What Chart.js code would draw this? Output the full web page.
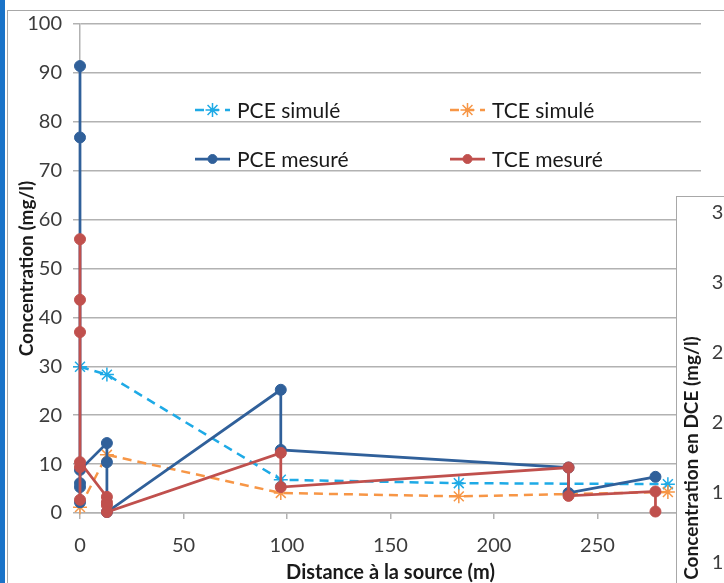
<!DOCTYPE html>
<html>
<head>
<meta charset="utf-8">
<script src="https://cdn.jsdelivr.net/npm/chart.js@4/dist/chart.umd.min.js"></script>
<style>
  html, body { margin: 0; padding: 0; background: #fff; overflow: hidden; }
  body { width: 724px; height: 583px; position: relative; }
  #bar { position: absolute; left: 0; top: 0; width: 5px; height: 583px; background: #1a73c8; }
  #frame { position: absolute; left: 7px; top: 10px; width: 800px; height: 700px;
           border-left: 1.5px solid #a8a8a8; border-top: 1.5px solid #a8a8a8; }
  #main { position: absolute; left: 0; top: 0; z-index: 1; }
  #dceBox { position: absolute; left: 676px; top: 196px; width: 300px; height: 400px;
            background: #fff; border-left: 1px solid #a8a8a8; border-top: 1px solid #a8a8a8;
            overflow: hidden; z-index: 2; }
  #dce { position: absolute; left: 0; top: 0; }
</style>
</head>
<body>
<div id="bar"></div>
<div id="frame"></div>
<canvas id="main" width="724" height="583"></canvas>
<div id="dceBox"><canvas id="dce" width="300" height="540"></canvas></div>
<script>
// ── Données ────────────────────────────────────────────────────────
const pceSimX = [0, 13, 97, 183, 284];
const pceSimY = [29.9, 28.3, 6.8, 6.1, 5.9];

const tceSimX = [0, 13, 97, 183, 284];
const tceSimY = [1.2, 11.9, 4.1, 3.4, 4.3];

const pceMesX = [0, 0, 0, 0, 0, 0, 13, 13, 13, 97, 97, 236, 236, 278];
const pceMesY = [91.4, 76.8, 2.2, 5.3, 6.1, 8.8, 14.3, 10.4, 0.2, 25.2, 12.9, 9.3, 4.1, 7.4];

const tceMesX = [0, 0, 0, 0, 0, 0, 13, 13, 13, 13, 97, 97, 236, 236, 278, 278];
const tceMesY = [56.0, 43.6, 37.0, 2.7, 9.4, 10.4, 3.3, 2.2, 1.6, 0.2, 12.3, 5.3, 9.3, 3.5, 4.4, 0.3];

const seriesLabels = ["PCE simulé", "TCE simulé", "PCE mesuré", "TCE mesuré"];
const xTitle = "Distance à la source (m)";
const yTitle = "Concentration (mg/l)";
const dceTitle = "Concentration en DCE (mg/l)";

const FONT = "Lato, 'Open Sans', sans-serif";
const GRID = "#b2b2b2";
const TICK_COLOR = "#3c3c3c";

function pts(xs, ys) {
  return xs.map((x, i) => ({ x, y: ys[i] }));
}

// ── Légende façon Excel (trait + marqueur) ─────────────────────────
const excelLegend = {
  id: "excelLegend",
  afterDraw(chart) {
    const { ctx, chartArea } = chart;
    const slots = [[115, 86], [370, 86], [115, 135], [370, 135]];
    ctx.save();
    chart.data.datasets.forEach((ds, i) => {
      const x = chartArea.left + slots[i][0];
      const y = chartArea.top + slots[i][1];
      ctx.strokeStyle = ds.borderColor;
      ctx.fillStyle = ds.backgroundColor;
      ctx.lineWidth = ds.borderWidth;
      ctx.setLineDash(ds.borderDash || []);
      ctx.beginPath();
      ctx.moveTo(x, y);
      ctx.lineTo(x + 35, y);
      ctx.stroke();
      ctx.setLineDash([]);
      ctx.lineWidth = ds.pointBorderWidth;
      Chart.helpers.drawPoint(ctx, {
        pointStyle: ds.pointStyle, radius: ds.pointStyle === "circle" ? 4.5 : 7,
        borderWidth: ds.pointBorderWidth, rotation: 0,
      }, x + 17.5, y);
      ctx.fillStyle = "#1a1a1a";
      ctx.font = `21px ${FONT}`;
      ctx.textBaseline = "middle";
      ctx.textAlign = "left";
      ctx.fillText(ds.label, x + 42, y + 1);
    });
    ctx.restore();
  },
};

// ── Graphique principal ────────────────────────────────────────────
new Chart(document.getElementById("main"), {
  type: "scatter",
  data: {
    datasets: [
      {
        label: seriesLabels[0], data: pts(pceSimX, pceSimY), showLine: true, clip: false,
        borderColor: "#1eaae6", backgroundColor: "#1eaae6",
        borderWidth: 2.5, borderDash: [9, 6],
        pointStyle: "star", pointRadius: 7, pointBorderWidth: 1.5, order: 4,
      },
      {
        label: seriesLabels[1], data: pts(tceSimX, tceSimY), showLine: true, clip: false,
        borderColor: "#f79646", backgroundColor: "#f79646",
        borderWidth: 2.5, borderDash: [9, 6],
        pointStyle: "star", pointRadius: 7, pointBorderWidth: 1.5, order: 3,
      },
      {
        label: seriesLabels[2], data: pts(pceMesX, pceMesY), showLine: true, clip: false,
        borderColor: "#30609a", backgroundColor: "#30609a",
        borderWidth: 2.75,
        pointStyle: "circle", pointRadius: 5.5, pointBorderWidth: 1, order: 2,
      },
      {
        label: seriesLabels[3], data: pts(tceMesX, tceMesY), showLine: true, clip: false,
        borderColor: "#c0504d", backgroundColor: "#c0504d",
        borderWidth: 2.75,
        pointStyle: "circle", pointRadius: 5.5, pointBorderWidth: 1, order: 1,
      },
    ],
  },
  options: {
    responsive: false,
    devicePixelRatio: 1,
    animation: false,
    layout: { padding: { left: 0, top: 24, right: 23, bottom: 0 } },
    plugins: { legend: { display: false }, tooltip: { enabled: false } },
    scales: {
      x: {
        type: "linear", min: 0, max: 300,
        afterFit: (s) => { s.height = 70; s.paddingLeft = 0; s.paddingRight = 0; },
        ticks: { stepSize: 50, color: TICK_COLOR, font: { family: FONT, size: 20 }, padding: 15 },
        grid: { drawOnChartArea: false, drawTicks: true, tickLength: 6, color: GRID, lineWidth: 1.5 },
        border: { color: GRID, width: 1.5 },
        title: {
          display: true, text: xTitle, color: "#1a1a1a",
          font: { family: FONT, size: 20, weight: "bold", lineHeight: 1 },
          padding: { top: 0, bottom: 0 },
        },
      },
      y: {
        type: "linear", min: 0, max: 100,
        afterFit: (s) => { s.width = 80; s.paddingTop = 0; s.paddingBottom = 0; },
        ticks: { stepSize: 10, color: TICK_COLOR, font: { family: FONT, size: 20 }, padding: 11 },
        grid: { color: GRID, lineWidth: 1.5, tickLength: 7 },
        border: { color: GRID, width: 1.5 },
        title: {
          display: true, text: yTitle, color: "#1a1a1a",
          font: { family: FONT, size: 19, weight: "bold", lineHeight: 1.2 },
          padding: { top: 15, bottom: 0 },
        },
      },
    },
  },
  plugins: [excelLegend],
});

// ── Second graphique (DCE), en partie recouvert et coupé ────────────
new Chart(document.getElementById("dce"), {
  type: "scatter",
  data: { datasets: [{ label: "DCE", data: [] }] },
  options: {
    responsive: false,
    devicePixelRatio: 1,
    animation: false,
    layout: { padding: { left: 0, top: 16, right: 10, bottom: 34 } },
    plugins: { legend: { display: false }, tooltip: { enabled: false } },
    scales: {
      x: { type: "linear", min: 0, max: 300, display: false },
      y: {
        type: "linear", min: 0, max: 35,
        ticks: { stepSize: 5, color: TICK_COLOR, font: { family: FONT, size: 20 }, padding: 4 },
        grid: { color: GRID, lineWidth: 1.5, drawTicks: false },
        border: { color: GRID, width: 1.5 },
        title: {
          display: true, text: dceTitle, color: "#1a1a1a",
          font: { family: FONT, size: 19, weight: "bold", lineHeight: 1.2 },
          padding: { top: 3, bottom: 5 },
        },
      },
    },
  },
});
</script>
</body>
</html>
